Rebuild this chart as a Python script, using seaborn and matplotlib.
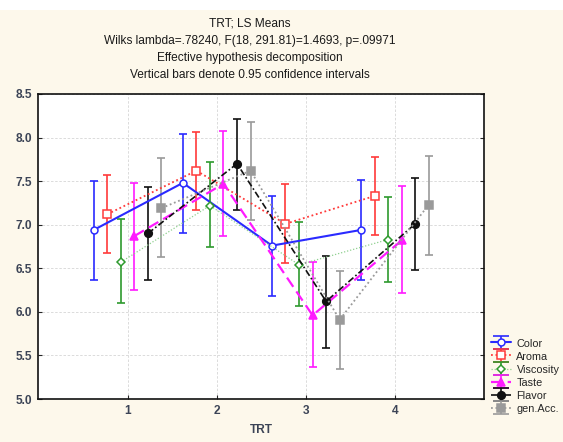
import matplotlib
matplotlib.use("Agg")
import matplotlib.pyplot as plt
from matplotlib.patches import Rectangle
from matplotlib.container import ErrorbarContainer
from matplotlib.legend_handler import HandlerTuple, HandlerErrorbar
import numpy as np
import seaborn as sns

# LS means and 0.95 confidence limits
trt = [1, 2, 3, 4]
attributes = ["Color", "Aroma", "Viscosity", "Taste", "Flavor", "gen.Acc."]

color_mean = [6.94, 7.48, 6.76, 6.94]
color_low = [6.36, 6.90, 6.18, 6.36]
color_high = [7.50, 8.04, 7.33, 7.51]

aroma_mean = [7.12, 7.62, 7.01, 7.33]
aroma_low = [6.67, 7.17, 6.56, 6.88]
aroma_high = [7.57, 8.06, 7.47, 7.78]

viscosity_mean = [6.57, 7.22, 6.54, 6.83]
viscosity_low = [6.10, 6.74, 6.07, 6.34]
viscosity_high = [7.07, 7.72, 7.03, 7.32]

taste_mean = [6.87, 7.47, 5.96, 6.82]
taste_low = [6.25, 6.87, 5.37, 6.22]
taste_high = [7.48, 8.07, 6.57, 7.44]

flavor_mean = [6.90, 7.70, 6.12, 7.01]
flavor_low = [6.37, 7.17, 5.58, 6.48]
flavor_high = [7.43, 8.21, 6.64, 7.54]

genacc_mean = [7.19, 7.62, 5.91, 7.23]
genacc_low = [6.63, 7.05, 5.34, 6.65]
genacc_high = [7.76, 8.18, 6.47, 7.79]

title_lines = [
    "TRT; LS Means",
    "Wilks lambda=.78240, F(18, 291.81)=1.4693, p=.09971",
    "Effective hypothesis decomposition",
    "Vertical bars denote 0.95 confidence intervals",
]

series = [
    (color_mean, color_low, color_high),
    (aroma_mean, aroma_low, aroma_high),
    (viscosity_mean, viscosity_low, viscosity_high),
    (taste_mean, taste_low, taste_high),
    (flavor_mean, flavor_low, flavor_high),
    (genacc_mean, genacc_low, genacc_high),
]

# styling per attribute: line colour, bar colour, linestyle, lw, marker, face
styles = [
    dict(lc="#2a2aff", bc="#2a2aff", ls="-", lw=1.5, m="o", fc="white", ms=5),
    dict(lc="#ff3a3a", bc="#ff3a3a", ls=(0, (1, 1.5)), lw=1.3, m="s", fc="white", ms=5.5),
    dict(lc="#8fd08f", bc="#2e9a2e", ls=(0, (1, 1.5)), lw=0.9, m="D", fc="white", ms=4.3),
    dict(lc="#ff1aff", bc="#ff1aff", ls=(0, (5, 2.5)), lw=1.6, m="^", fc="#ff1aff", ms=5.5),
    dict(lc="#111111", bc="#111111", ls=(0, (4, 1.5, 1, 1.5)), lw=1.2, m="o", fc="#111111", ms=5.5),
    dict(lc="#9a9a9a", bc="#9a9a9a", ls=(0, (1, 1.5)), lw=1.3, m="s", fc="#9a9a9a", ms=5.5),
]

offsets = [-0.38, -0.228, -0.076, 0.076, 0.228, 0.38]

sns.set_style("white")
plt.rcParams["font.family"] = ["Liberation Sans", "DejaVu Sans"]

cream = "#fdf8eb"
fig = plt.figure(figsize=(5.63, 4.42), dpi=100, facecolor=cream)
fig.patches.append(Rectangle((0, 1 - 10 / 442), 1, 10 / 442, transform=fig.transFigure,
                             facecolor="white", edgecolor="none", zorder=0))
ax = fig.add_axes([38.5 / 563, 1 - 399 / 442, (484 - 38.5) / 563, (399 - 94) / 442])
ax.set_facecolor("white")

handles = []
for (mean, low, high), st, off in zip(series, styles, offsets):
    x = np.array(trt) + off
    mean = np.array(mean)
    yerr = [mean - np.array(low), np.array(high) - mean]
    eb = ax.errorbar(x, mean, yerr=yerr, fmt="none", ecolor=st["bc"], elinewidth=1.2,
                     capsize=2.8, capthick=1.2, zorder=3)
    sns.lineplot(x=x, y=mean, ax=ax, sort=False, color=st["lc"], linestyle=st["ls"],
                 lw=st["lw"], marker=st["m"], markersize=st["ms"], markerfacecolor=st["fc"],
                 markeredgecolor=st["bc"], markeredgewidth=1.1, legend=False, zorder=4)
    line = ax.lines[-1]
    handles.append((eb, line))

ax.set_xlim(0, 5)
ax.set_ylim(5.0, 8.5)
ax.set_xticks(trt)
ax.set_yticks(np.arange(5.0, 8.51, 0.5))
ax.set_yticklabels([f"{v:.1f}" for v in np.arange(5.0, 8.51, 0.5)])
ax.grid(True, color="#d6d6d6", linestyle=(0, (3, 2)), linewidth=0.6)
ax.set_axisbelow(True)
for side in ["left", "right", "top", "bottom"]:
    ax.spines[side].set_color("#111111")
    ax.spines[side].set_linewidth(1.2)
ax.tick_params(direction="in", length=3, width=0.8, right=True, left=True, bottom=True,
               labelsize=8.6, labelcolor="#3c4456", pad=4.5)
for lab in ax.get_xticklabels() + ax.get_yticklabels():
    lab.set_fontweight("bold")
ax.set_xlabel("TRT", fontsize=8.6, fontweight="bold", color="#3c4456", labelpad=5)

for i, txt in enumerate(title_lines):
    fig.text(250 / 563, 1 - (23.5 + 17.2 * i) / 442, txt, ha="center", va="center",
             fontsize=8.6, color="#1a1a1a")


def wide_caps(legend_handle, orig_handle):
    # make the legend caps span the handle like the original glyphs
    legend_handle.update_from(orig_handle)
    if hasattr(legend_handle, "set_markersize"):
        legend_handle.set_markersize(11)


fig.legend(handles, attributes,
           handler_map={tuple: HandlerTuple(ndivide=1),
                        ErrorbarContainer: HandlerErrorbar(yerr_size=0.6, update_func=wide_caps)},
           loc="upper left", bbox_to_anchor=(491 / 563, 1 - 338 / 442),
           frameon=False, fontsize=7.8, handlelength=1.8, handleheight=1.1,
           handletextpad=0.55, labelspacing=0.2, borderpad=0, borderaxespad=0)

fig.savefig("out.png", dpi=100, facecolor=cream)
